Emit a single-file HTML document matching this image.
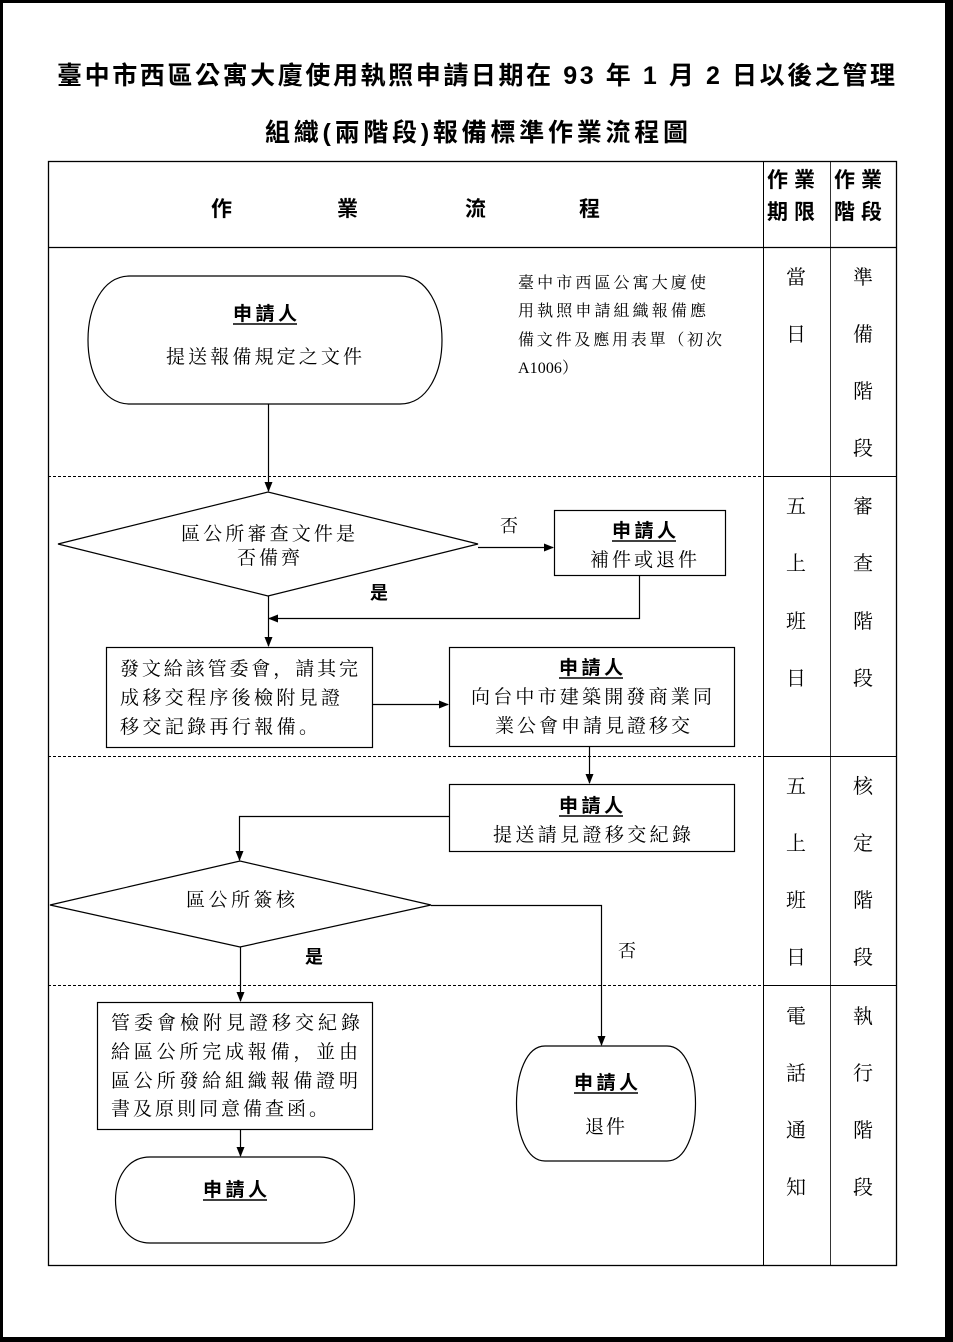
<!DOCTYPE html>
<html><head><meta charset="utf-8"><style>
html,body{margin:0;padding:0;background:#fff}
svg{display:block}
text{font-family:"Liberation Serif","Noto Serif CJK SC",serif;fill:#000}
.b{font-family:"Liberation Sans","Noto Sans CJK TC",sans-serif;font-weight:bold}
</style></head><body>
<svg width="953" height="1342" viewBox="0 0 953 1342" xmlns="http://www.w3.org/2000/svg">
<defs><marker id="a" markerWidth="10" markerHeight="10" refX="9" refY="5" orient="auto" markerUnits="userSpaceOnUse"><path d="M0,1 L10,5 L0,9 Z" fill="#000"/></marker></defs>
<rect x="0" y="0" width="953" height="1342" fill="#000"/>
<rect x="3" y="3" width="942" height="1334" fill="#fff"/>

<text class="b" x="57" y="84" font-size="25" textLength="838" lengthAdjust="spacing">臺中市西區公寓大廈使用執照申請日期在 93 年 1 月 2 日以後之管理</text>
<text class="b" x="265" y="141" font-size="25" textLength="423" lengthAdjust="spacing">組織(兩階段)報備標準作業流程圖</text>

<g stroke="#000" fill="none">
<rect x="48.5" y="161.5" width="848" height="1104" stroke-width="1.3"/>
<line x1="763.5" y1="161" x2="763.5" y2="1266"/>
<line x1="830.5" y1="161" x2="830.5" y2="1266" stroke-width="0.8"/>
<line x1="48" y1="247.5" x2="896" y2="247.5" stroke-width="1.3"/>
<g stroke-dasharray="3,2"><line x1="48" y1="476.5" x2="763" y2="476.5"/><line x1="48" y1="756.5" x2="763" y2="756.5"/><line x1="48" y1="985.5" x2="763" y2="985.5"/></g>
<line x1="763" y1="476.5" x2="896" y2="476.5"/><line x1="763" y1="756.5" x2="896" y2="756.5"/><line x1="763" y1="985.5" x2="896" y2="985.5"/>
</g>

<g font-size="21">
<text class="b" x="211" y="216">作</text><text class="b" x="337" y="216">業</text><text class="b" x="465" y="216">流</text><text class="b" x="579" y="216">程</text>
<text class="b" x="767" y="187" textLength="48" lengthAdjust="spacing">作業</text><text class="b" x="767" y="219" textLength="48" lengthAdjust="spacing">期限</text>
<text class="b" x="834" y="187" textLength="48" lengthAdjust="spacing">作業</text><text class="b" x="834" y="219" textLength="48" lengthAdjust="spacing">階段</text>
</g>

<g stroke="#000" fill="none" stroke-width="1.2">
<path d="M130,276 H400 C456,276 456,404 400,404 H130 C74,404 74,276 130,276 Z"/>
<path d="M150,1157 H320 C366,1157 366,1243 320,1243 H150 C104,1243 104,1157 150,1157 Z"/>
<path d="M545,1046 H667 C705,1046 705,1161 667,1161 H545 C507,1161 507,1046 545,1046 Z"/>
<polygon points="58,544 268,492 478,544 268,596"/>
<polygon points="50,905 240,861 431,905 240,947"/>
<rect x="554.5" y="510.5" width="171" height="65"/>
<rect x="106.5" y="647.5" width="266" height="100"/>
<rect x="449.5" y="647.5" width="285" height="99"/>
<rect x="449.5" y="784.5" width="285" height="67"/>
<rect x="97.5" y="1002.5" width="275" height="127"/>
<g marker-end="url(#a)">
<line x1="268.5" y1="404" x2="268.5" y2="491"/>
<line x1="478" y1="547.5" x2="553" y2="547.5"/>
<polyline points="639.5,575 639.5,618.5 269,618.5"/>
<line x1="268.5" y1="596" x2="268.5" y2="646"/>
<line x1="372" y1="704.5" x2="448" y2="704.5"/>
<line x1="589.5" y1="746" x2="589.5" y2="783"/>
<polyline points="449,816.5 239.5,816.5 239.5,860"/>
<polyline points="431,905.5 601.5,905.5 601.5,1045"/>
<line x1="240.5" y1="947" x2="240.5" y2="1001"/>
<line x1="240.5" y1="1129" x2="240.5" y2="1156"/>
</g>
</g>

<g font-size="19" lengthAdjust="spacing">
<text class="b" x="233" y="320" textLength="64">申請人</text><line x1="233" y1="324" x2="297" y2="324" stroke="#000" stroke-width="1.5"/>
<text x="166" y="363" textLength="196">提送報備規定之文件</text>
<text x="181" y="540" textLength="174">區公所審查文件是</text>
<text x="237" y="564" textLength="63">否備齊</text>
<text x="500" y="532" font-size="18">否</text>
<text class="b" x="612" y="537" textLength="64">申請人</text><line x1="612" y1="541" x2="676" y2="541" stroke="#000" stroke-width="1.5"/>
<text x="590" y="566" textLength="107">補件或退件</text>
<text class="b" x="370" y="599" font-size="18">是</text>
<text class="b" x="559" y="674" textLength="64">申請人</text><line x1="559" y1="678" x2="623" y2="678" stroke="#000" stroke-width="1.5"/>
<text x="471" y="703" textLength="241">向台中市建築開發商業同</text>
<text x="495" y="732" textLength="195">業公會申請見證移交</text>
<text class="b" x="559" y="812" textLength="64">申請人</text><line x1="559" y1="816" x2="623" y2="816" stroke="#000" stroke-width="1.5"/>
<text x="493" y="841" textLength="198">提送請見證移交紀錄</text>
<text x="186" y="906" textLength="109">區公所簽核</text>
<text class="b" x="305" y="963" font-size="18">是</text>
<text x="618" y="957" font-size="18">否</text>
<text class="b" x="203" y="1196" textLength="64">申請人</text><line x1="203" y1="1200" x2="267" y2="1200" stroke="#000" stroke-width="1.5"/>
<text class="b" x="574" y="1089" textLength="64">申請人</text><line x1="574" y1="1093" x2="638" y2="1093" stroke="#000" stroke-width="1.5"/>
<text x="585" y="1133" textLength="40">退件</text>
<text x="120" y="675" textLength="238">發文給該管委會，請其完</text>
<text x="120" y="704" textLength="220">成移交程序後檢附見證</text>
<text x="120" y="733" textLength="198">移交記錄再行報備。</text>
<text x="111" y="1029" textLength="249">管委會檢附見證移交紀錄</text>
<text x="111" y="1058" textLength="247">給區公所完成報備，並由</text>
<text x="111" y="1087" textLength="247">區公所發給組織報備證明</text>
<text x="111" y="1115" textLength="217">書及原則同意備查函。</text>
</g>
<g font-size="16" lengthAdjust="spacing">
<text x="518" y="288" textLength="188">臺中市西區公寓大廈使</text>
<text x="518" y="316" textLength="188">用執照申請組織報備應</text>
<text x="518" y="345" textLength="204">備文件及應用表單（初次</text>
<text x="518" y="373" textLength="60">A1006）</text>
</g>
<g font-size="20" text-anchor="middle">
<text x="796" y="284">當</text><text x="796" y="341">日</text>
<text x="863" y="284">準</text><text x="863" y="341">備</text><text x="863" y="398">階</text><text x="863" y="455">段</text>
<text x="796" y="513">五</text><text x="796" y="570">上</text><text x="796" y="628">班</text><text x="796" y="685">日</text>
<text x="863" y="513">審</text><text x="863" y="570">查</text><text x="863" y="628">階</text><text x="863" y="685">段</text>
<text x="796" y="793">五</text><text x="796" y="850">上</text><text x="796" y="907">班</text><text x="796" y="964">日</text>
<text x="863" y="793">核</text><text x="863" y="850">定</text><text x="863" y="907">階</text><text x="863" y="964">段</text>
<text x="796" y="1023">電</text><text x="796" y="1080">話</text><text x="796" y="1137">通</text><text x="796" y="1194">知</text>
<text x="863" y="1023">執</text><text x="863" y="1080">行</text><text x="863" y="1137">階</text><text x="863" y="1194">段</text>
</g>
</svg>
</body></html>
